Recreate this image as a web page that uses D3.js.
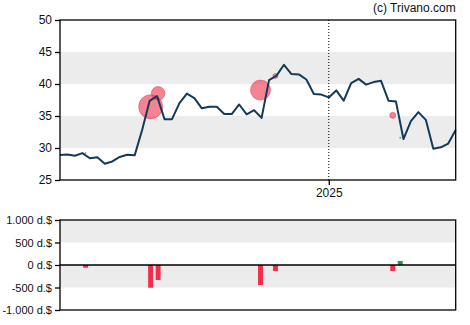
<!DOCTYPE html>
<html>
<head>
<meta charset="utf-8">
<script src="https://cdn.jsdelivr.net/npm/d3@7"></script>
<style>
  html, body { margin: 0; padding: 0; background: #fff; }
  svg { display: block; font-family: "Liberation Sans", Arial, sans-serif; }
</style>
</head>
<body>
<svg id="chart" width="470" height="325"></svg>
<script>
// Weekly closing prices
const startDate = "2024-04-24";
const prices = [
  28.9, 29.0, 28.8, 29.2, 28.4, 28.55, 27.55, 27.9, 28.6, 28.95,
  28.85, 32.8, 37.35, 38.1, 34.5, 34.5, 37.0, 38.5, 37.8, 36.2,
  36.45, 36.45, 35.3, 35.3, 36.8, 35.25, 35.9, 34.7, 40.6, 41.3,
  43.0, 41.55, 41.5, 40.7, 38.45, 38.35, 37.9, 39.0, 37.4, 40.15,
  40.8, 39.9, 40.3, 40.5, 37.4, 37.25, 31.4, 34.2, 35.6, 34.4,
  29.9, 30.1, 30.7, 32.8
];

// Insider transactions: date, trade price, shares, net value (thousand $)
const tradeDates  = ["2024-05-18", "2024-07-18", "2024-07-25", "2024-10-29", "2024-11-12", "2025-03-02", "2025-03-09"];
const tradePrices = [29.2, 36.45, 38.55, 39.05, 41.25, 35.1, 31.6];
const tradeShares = [30, 14400, 4500, 10000, 620, 900, 40];
const tradeValues = [-60, -505, -333, -444, -133, -133, 89];

const priceTicks = [25, 30, 35, 40, 45, 50];
const flowTicks = [-1000, -500, 0, 500, 1000];
const flowTickLabels = ["-1.000 d.$", "-500 d.$", "0 d.$", "500 d.$", "1.000 d.$"];
const yearMarks = ["2025-01-01"];
const yearLabels = ["2025"];
const credit = "(c) Trivano.com";

const parse = d3.utcParse("%Y-%m-%d");
const t0 = parse(startDate);
const series = prices.map((p, i) => ({ date: d3.utcDay.offset(t0, 7 * i), value: p }));
const trades = tradeDates.map((d, i) => ({
  date: parse(d), price: tradePrices[i], shares: tradeShares[i], value: tradeValues[i]
}));

const svg = d3.select("#chart");
const left = 60, right = 455.7;
const top1 = 20, bottom1 = 180;
const top2 = 220, bottom2 = 310;

const x = d3.scaleUtc()
  .domain([series[0].date, series[series.length - 1].date])
  .range([left, right]);
const y = d3.scaleLinear().domain([25, 50]).range([bottom1, top1]);
const y2 = d3.scaleLinear().domain([-1000, 1000]).range([bottom2, top2]);
const r = d3.scaleSqrt().domain([0, d3.max(tradeShares)]).range([0, 12]);

const band = "#ececec";

// ---- price panel ----
const g1 = svg.append("g");
[[30, 35], [40, 45]].forEach(([a, b]) => {
  g1.append("rect").attr("x", left).attr("width", right - left)
    .attr("y", y(b)).attr("height", y(a) - y(b)).attr("fill", band);
});

yearMarks.forEach(d => {
  g1.append("line")
    .attr("x1", x(parse(d))).attr("x2", x(parse(d)))
    .attr("y1", top1).attr("y2", bottom1)
    .attr("stroke", "#000").attr("stroke-width", 1)
    .attr("stroke-dasharray", "1,2");
});

g1.selectAll("circle.trade").data(trades).join("circle")
  .attr("class", "trade")
  .attr("cx", d => x(d.date)).attr("cy", d => y(d.price))
  .attr("r", d => r(d.shares))
  .attr("fill", d => d.value < 0 ? "#f0304a" : "#2e8b4e")
  .attr("fill-opacity", 0.6)
  .attr("stroke", d => d.value < 0 ? "#f0304a" : "#2e8b4e")
  .attr("stroke-opacity", 0.5)
  .attr("stroke-width", 1);

g1.append("path").datum(series)
  .attr("d", d3.line().x(d => x(d.date)).y(d => y(d.value)))
  .attr("fill", "none").attr("stroke", "#123a5a")
  .attr("stroke-width", 2).attr("stroke-linejoin", "round");

g1.append("rect").attr("x", left).attr("y", top1)
  .attr("width", right - left).attr("height", bottom1 - top1)
  .attr("fill", "none").attr("stroke", "#000").attr("stroke-width", 1.3);

const ay1 = g1.append("g").attr("transform", `translate(${left},0)`)
  .call(d3.axisLeft(y).tickValues(priceTicks).tickSize(5).tickSizeOuter(0));
ay1.select(".domain").remove();
ay1.selectAll("text").attr("font-size", 12).attr("fill", "#111").attr("font-family", null);
ay1.selectAll("line").attr("stroke-width", 1.3);

const ax1 = g1.append("g").attr("transform", `translate(0,${bottom1})`)
  .call(d3.axisBottom(x).tickValues(yearMarks.map(parse))
    .tickFormat((d, i) => yearLabels[i]).tickSize(5).tickSizeOuter(0));
ax1.select(".domain").remove();
ax1.selectAll("text").attr("font-size", 12).attr("fill", "#111").attr("font-family", null);
ax1.selectAll("line").attr("stroke-width", 1.3);

svg.append("text").attr("x", right).attr("y", 12)
  .attr("text-anchor", "end").attr("font-size", 12).attr("fill", "#111")
  .text(credit);

// ---- transaction panel ----
const g2 = svg.append("g");
[[-500, 0], [500, 1000]].forEach(([a, b]) => {
  g2.append("rect").attr("x", left).attr("width", right - left)
    .attr("y", y2(b)).attr("height", y2(a) - y2(b)).attr("fill", band);
});

g2.selectAll("rect.bar").data(trades).join("rect")
  .attr("class", "bar")
  .attr("x", d => x(d.date) - 2.5).attr("width", 5)
  .attr("y", d => y2(Math.max(0, d.value)))
  .attr("height", d => Math.abs(y2(d.value) - y2(0)))
  .attr("fill", d => d.value < 0 ? "#f0304a" : "#2e9150");

g2.append("line").attr("x1", left).attr("x2", right)
  .attr("y1", y2(0)).attr("y2", y2(0))
  .attr("stroke", "#000").attr("stroke-width", 1.3);

g2.append("rect").attr("x", left).attr("y", top2)
  .attr("width", right - left).attr("height", bottom2 - top2)
  .attr("fill", "none").attr("stroke", "#000").attr("stroke-width", 1.3);

const ay2 = g2.append("g").attr("transform", `translate(${left},0)`)
  .call(d3.axisLeft(y2).tickValues(flowTicks)
    .tickFormat((d, i) => flowTickLabels[i]).tickSize(5).tickSizeOuter(0));
ay2.select(".domain").remove();
ay2.selectAll("text").attr("font-size", 11).attr("fill", "#111").attr("font-family", null);
ay2.selectAll("line").attr("stroke-width", 1.3);
</script>
</body>
</html>
